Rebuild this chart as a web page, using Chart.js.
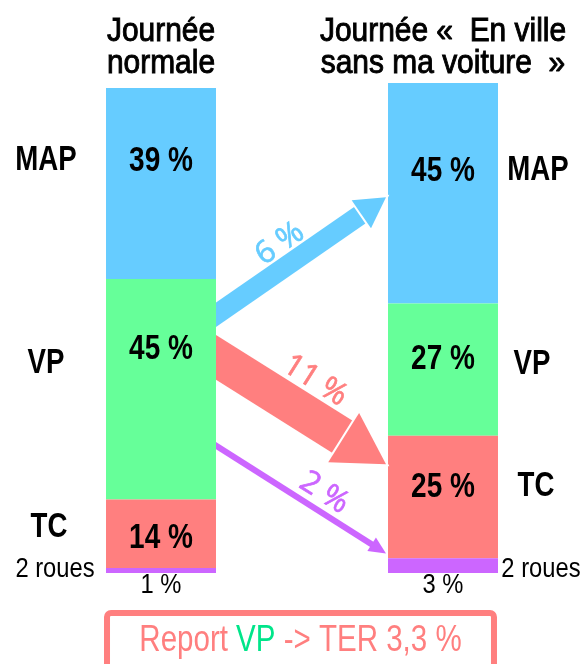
<!DOCTYPE html>
<html>
<head>
<meta charset="utf-8">
<script src="https://cdn.jsdelivr.net/npm/chart.js@4"></script>
<style>
  html, body { margin: 0; padding: 0; background: #fff; }
  #wrap { position: relative; width: 585px; height: 664px; }
</style>
</head>
<body>
<div id="wrap"><canvas id="report-chart" width="585" height="664"></canvas></div>
<script>
// Data
var periods = ['Journée normale', 'Journée « En ville sans ma voiture »'];
var titleLines = [['Journée', 'normale'], ['Journée «  En ville', 'sans ma voiture  »']];
var modes = ['2 roues', 'TC', 'VP', 'MAP'];          // bottom -> top
var shareTwoWheels = [1, 3];
var shareTC = [14, 25];
var shareVP = [45, 27];
var shareMAP = [39, 45];
var transferValues = [6, 11, 2];                    // VP -> MAP, VP -> TC, VP -> 2 roues
var terShift = '3,3';

var colors = ['#CC66FF', '#FF7F7F', '#66FF99', '#66CCFF'];
var FONT = '"Liberation Sans", Arial, sans-serif';

// label baselines, in y-axis units (left bar, right bar) per mode
var modeLabelY = [[-0.8, -0.8], [7.4, 15.8], [40.9, 40.7], [82.2, 80.3]];
var valueLabelY = [[-4.1, -4.1], [5.2, 15.6], [43.6, 41.7], [82.1, 80.1]];
var modeLabelDX = [[-51, 43], [-57, 38], [-60, 34], [-60, 40]];

// arrows: start / tip in y-axis units, shaft width and head size in px
var arrows = [
  { from: 52.7, to: 76.7, width: 20, headLen: 30, headW: 34, color: colors[3], labelAt: 0.45, labelOff: -12 },
  { from: 44,   to: 22.2, width: 38, headLen: 50, headW: 58, color: colors[1], labelAt: 0.48, labelOff: -14 },
  { from: 26,   to: 4,    width: 6,  headLen: 17, headW: 16, color: colors[0], labelAt: 0.58, labelOff: -15 }
];

var datasets = [shareTwoWheels, shareTC, shareVP, shareMAP].map(function (d, i) {
  return { label: modes[i], data: d, backgroundColor: colors[i], borderWidth: 0 };
});

// narrow text: horizontal squeeze of a normal sans, optional stroke to thicken
function narrowText(ctx, text, x, y, font, sx, thick) {
  ctx.save();
  ctx.translate(x, y);
  ctx.scale(sx, 1);
  ctx.font = font;
  ctx.fillText(text, 0, 0);
  if (thick) {
    ctx.strokeStyle = ctx.fillStyle;
    ctx.lineWidth = thick;
    ctx.strokeText(text, 0, 0);
  }
  ctx.restore();
}

function drawArrow(ctx, x0, y0, x1, y1, a) {
  var ang = Math.atan2(y1 - y0, x1 - x0);
  var len = Math.hypot(x1 - x0, y1 - y0);
  ctx.save();
  ctx.translate(x0, y0);
  ctx.rotate(ang);
  ctx.fillStyle = a.color;
  ctx.fillRect(-30, -a.width / 2, len - a.headLen + 32, a.width);
  ctx.beginPath();
  ctx.moveTo(len, 0);
  ctx.lineTo(len - a.headLen, -a.headW / 2);
  ctx.lineTo(len - a.headLen, a.headW / 2);
  ctx.closePath();
  if (a.width > 10) {
    ctx.strokeStyle = '#fff';
    ctx.lineWidth = 4;
    ctx.stroke();
  }
  ctx.fill();
  ctx.restore();
}

var overlay = {
  id: 'overlay',
  afterDatasetsDraw: function (chart) {
    var ctx = chart.ctx;
    var y = chart.scales.y;
    var left = chart.getDatasetMeta(0).data[0];
    var right = chart.getDatasetMeta(0).data[1];
    var lx0 = left.x - left.width / 2, lx1 = left.x + left.width / 2;
    var rx0 = right.x - right.width / 2, rx1 = right.x + right.width / 2;

    ctx.save();
    ctx.textAlign = 'center';
    ctx.textBaseline = 'alphabetic';
    ctx.fillStyle = '#000';

    // titles
    [left.x, right.x].forEach(function (cx, i) {
      narrowText(ctx, titleLines[i][0], cx, 41, '34px ' + FONT, 0.88, 1);
      narrowText(ctx, titleLines[i][1], cx, 73, '34px ' + FONT, 0.88, 1);
    });

    // mode names and percentages
    modes.forEach(function (m, k) {
      var small = k === 0;
      var f = small ? '27px ' + FONT : 'bold 35px ' + FONT;
      var sx = small ? 0.88 : 0.79;
      narrowText(ctx, m, lx0 + modeLabelDX[k][0], y.getPixelForValue(modeLabelY[k][0]), f, sx);
      narrowText(ctx, m, rx1 + modeLabelDX[k][1], y.getPixelForValue(modeLabelY[k][1]), f, sx);
      [left, right].forEach(function (bar, j) {
        var v = chart.data.datasets[k].data[j];
        narrowText(ctx, v + ' %', bar.x, y.getPixelForValue(valueLabelY[k][j]), f, small ? 0.88 : 0.8);
      });
    });

    // transfer arrows
    arrows.forEach(function (a, i) {
      var x0 = lx1, y0 = y.getPixelForValue(a.from);
      var x1 = rx0 - 2, y1 = y.getPixelForValue(a.to);
      ctx.save();
      ctx.beginPath();
      ctx.rect(lx1, 0, rx0 - lx1 + 2, chart.height);
      ctx.clip();
      drawArrow(ctx, x0, y0, x1, y1, a);
      ctx.restore();
      var ang = Math.atan2(y1 - y0, x1 - x0);
      var len = Math.hypot(x1 - x0, y1 - y0);
      ctx.save();
      ctx.translate(x0, y0);
      ctx.rotate(ang);
      ctx.textBaseline = 'middle';
      ctx.fillStyle = a.color;
      narrowText(ctx, transferValues[i] + ' %', len * a.labelAt, a.labelOff - a.width / 2, '31px "Open Sans", sans-serif', 1, 0.7);
      ctx.restore();
    });

    // bottom box
    var bx0 = lx0 - 2, bx1 = rx1 - 1;
    ctx.strokeStyle = colors[1];
    ctx.lineWidth = 6;
    ctx.beginPath();
    ctx.roundRect(bx0 + 3, 613, bx1 - bx0 - 6, 60, 4);
    ctx.stroke();

    var sxB = 0.82;
    ctx.font = '36px ' + FONT;
    var parts = [['Report ', colors[1]], ['VP', '#00E58A'], [' -> TER ' + terShift + ' %', colors[1]]];
    var total = parts.reduce(function (s, p) { return s + ctx.measureText(p[0]).width * sxB; }, 0);
    var tx = (bx0 + bx1) / 2 - total / 2;
    ctx.textAlign = 'left';
    parts.forEach(function (p) {
      ctx.fillStyle = p[1];
      narrowText(ctx, p[0], tx, 651, '36px ' + FONT, sxB);
      tx += ctx.measureText(p[0]).width * sxB;
    });
    ctx.restore();
  }
};

var ctx = document.getElementById('report-chart');

var config = {
  type: 'bar',
  data: { labels: periods, datasets: datasets },
  options: {
    responsive: false,
    animation: false,
    layout: { padding: { left: 20, right: 1, top: 83, bottom: 91 } },
    barPercentage: 1,
    categoryPercentage: 0.39,
    plugins: { legend: { display: false }, tooltip: { enabled: false } },
    scales: {
      x: { display: false, stacked: true },
      y: { display: false, stacked: true, min: 0, max: 100 }
    }
  },
  plugins: [overlay]
};

var reportChart = new Chart(ctx, config);
</script>
</body>
</html>
